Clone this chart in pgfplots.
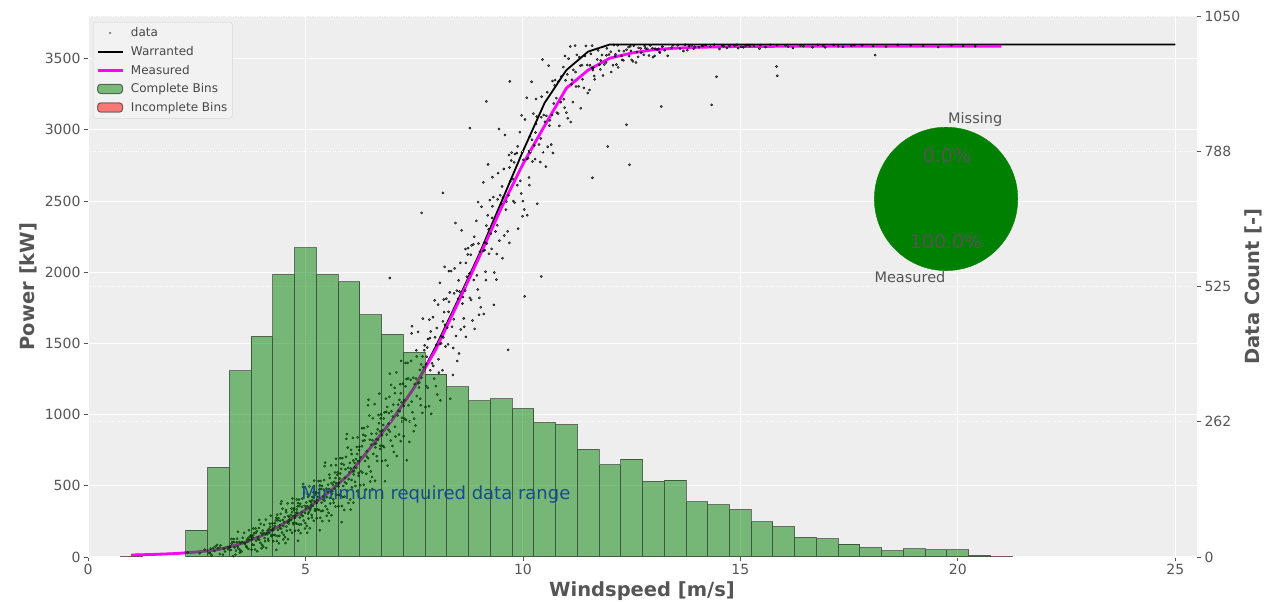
\documentclass[border=0pt]{standalone}
\usepackage{fontspec}
\setmainfont{DejaVu Sans}
\usepackage{pgfplots}
\pgfplotsset{compat=1.18}
\definecolor{bg}{RGB}{238,238,238}
\definecolor{txt}{RGB}{85,85,85}
\definecolor{piegreen}{RGB}{0,128,0}
\definecolor{mag}{RGB}{255,0,255}
\definecolor{navytxt}{RGB}{25,75,140}
\definecolor{legfill}{RGB}{242,242,242}
\definecolor{legdraw}{RGB}{215,215,215}
\definecolor{legtxt}{RGB}{70,70,70}
\pgfplotsset{
  dotlegend/.style={legend image code/.code={\fill[##1] (12.5pt,0pt) circle (1pt);}},
  linelegend/.style={legend image code/.code={\draw[##1] (0pt,0pt) -- (25pt,0pt);}},
  patchlegend/.style={legend image code/.code={\draw[##1] (0pt,-4.6pt) rectangle (25pt,4.6pt);}},
  scat/.style={only marks, mark=*, mark size=1.1pt, mark options={fill=black, draw=none, fill opacity=0.48}},
}
\begin{document}
\begin{tikzpicture}
\useasboundingbox (0,0) rectangle (1283pt,602pt);
\begin{axis}[
  at={(88pt,45pt)}, anchor=south west,
  width=1109pt, height=541pt, scale only axis,
  xmin=0, xmax=25.5, ymin=0, ymax=3800,
  xtick={0,5,10,15,20,25}, ytick={0,500,1000,1500,2000,2500,3000,3500},
  scaled ticks=false,
  axis background/.style={fill=bg},
  axis line style={draw=none},
  grid=major, major grid style={white, line width=1pt},
  tick pos=left, tick align=outside, major tick length=4pt,
  tick style={txt, line width=0.8pt},
  tick label style={font=\fontsize{14}{16}\selectfont, text=txt},
  /pgf/number format/assume math mode=true,
  /pgf/number format/1000 sep={},
  xlabel={Windspeed [m/s]}, ylabel={Power [kW]},
  label style={font=\bfseries\fontsize{19.5}{22}\selectfont, text=txt},
  xlabel style={at={(axis description cs:0.4995,-0.0628)}, anchor=center},
  ylabel style={at={(axis description cs:-0.054,0.5)}, anchor=center},
]
% scattered measurements (part 1)
\addplot[scat] coordinates {
(2.29,33)(2.57,27)(2.68,52)
(2.91,42)(3.02,66)(2.84,13)(3.13,61)(2.97,85)(3.22,54)(2.88,64)(3.10,17)(2.81,26)(3.05,82)
(3.44,72)(3.66,124)(3.27,74)(3.50,49)(3.70,188)(3.36,105)(3.59,98)(3.49,31)(3.64,76)(3.30,126)(3.54,105)(3.40,45)(3.73,144)(3.45,177)(3.61,92)(3.33,4)(3.56,135)(3.42,103)(3.69,57)(3.26,67)
(3.79,137)(4.07,110)(4.18,234)(3.91,126)(4.02,186)(3.84,53)(4.13,171)(3.97,233)(4.22,154)(3.88,180)(4.10,63)(3.81,84)(4.05,226)(3.94,121)(4.16,197)(3.77,124)(4.00,87)(4.20,290)(3.86,169)(4.09,159)(3.99,61)(4.14,127)(3.80,200)(4.04,169)
(4.40,149)(4.73,330)(4.45,392)(4.61,235)(4.33,50)(4.56,314)(4.42,255)(4.69,170)(4.26,188)(4.29,219)(4.57,185)(4.68,341)(4.41,204)(4.52,280)(4.34,113)(4.63,262)(4.47,339)(4.72,240)(4.38,273)(4.60,125)(4.31,152)(4.55,330)(4.44,199)(4.66,294)(4.27,203)(4.50,156)(4.70,411)(4.36,258)(4.59,246)(4.49,123)
(5.14,296)(4.80,404)(5.04,357)(4.90,229)(5.23,441)(4.95,513)(5.11,330)(4.83,114)(5.06,422)(4.92,353)(5.19,254)(4.76,275)(4.79,311)(5.07,271)(5.18,454)(4.91,294)(5.02,383)(4.84,187)(5.13,362)(4.97,452)(5.22,336)(4.88,374)(5.10,202)(4.81,233)(5.05,441)(4.94,288)(5.16,399)(4.77,292)(5.00,238)(5.20,536)(4.86,357)(5.09,343)(4.99,200)
(5.38,498)(5.60,293)(5.31,330)(5.55,578)(5.44,395)(5.66,528)(5.27,400)(5.50,335)(5.70,690)(5.36,478)(5.59,460)(5.49,290)(5.64,405)(5.30,533)(5.54,478)(5.40,325)(5.73,578)(5.45,663)(5.61,445)(5.33,188)(5.56,555)(5.42,473)(5.69,355)(5.26,380)(5.29,423)(5.57,375)(5.68,593)(5.41,403)(5.52,508)(5.34,275)
(6.09,600)(5.99,379)(6.14,528)(5.80,694)(6.04,622)(5.90,424)(6.23,752)(5.95,863)(6.11,580)(5.83,245)(6.06,723)(5.92,616)(6.19,463)(5.76,496)(5.79,551)(6.07,489)(6.18,772)(5.91,525)(6.02,661)(5.84,359)(6.13,629)(5.97,769)(6.22,590)(5.88,648)(6.10,382)(5.81,431)(6.05,752)(5.94,515)(6.16,687)(5.77,522)
(6.68,997)(6.41,705)(6.52,866)(6.34,508)(6.63,828)(6.47,993)(6.72,782)(6.38,851)(6.60,535)(6.31,593)(6.55,974)(6.44,693)(6.66,897)(6.27,701)(6.50,601)(6.70,1147)(6.36,820)(6.59,793)(6.49,531)(6.64,708)(6.30,905)(6.54,820)(6.40,585)(6.73,974)(6.45,1105)(6.61,770)
(6.83,532)(7.06,1150)(6.92,1011)(7.19,814)(6.76,856)(6.79,927)(7.07,847)(7.18,1213)(6.91,894)(7.02,1070)(6.84,679)(7.13,1028)(6.97,1209)(7.22,978)(6.88,1053)(7.10,709)(6.81,772)(7.05,1188)(6.94,881)(7.16,1104)(6.77,889)(7.00,780)(7.20,1377)(6.86,1020)
(7.31,962)(7.55,1452)(7.44,1091)(7.66,1353)(7.27,1101)(7.50,972)(7.70,1675)(7.36,1254)(7.59,1220)(7.49,883)(7.64,1111)(7.30,1363)(7.54,1254)(7.40,952)(7.73,1452)(7.45,1621)(7.61,1190)(7.33,680)(7.56,1408)(7.42,1244)(7.69,1012)(7.26,1061)
(7.79,1407)(8.07,1295)(8.18,1808)(7.91,1360)(8.02,1608)(7.84,1059)(8.13,1549)(7.97,1802)(8.22,1478)(7.88,1584)(8.10,1100)(7.81,1189)(8.05,1773)(7.94,1342)(8.16,1655)(7.77,1354)(8.00,1200)(8.20,2038)(7.86,1537)(8.09,1495)
(8.49,1377)(8.64,1676)(8.30,2008)(8.54,1865)(8.40,1468)(8.73,2125)(8.45,2346)(8.61,1780)(8.33,1111)(8.56,2066)(8.42,1852)(8.69,1546)(8.26,1611)(8.29,1722)(8.57,1598)(8.68,2164)(8.41,1670)(8.52,1943)
(8.84,1661)(9.13,2209)(8.97,2493)(9.22,2130)(8.88,2249)(9.10,1707)(8.81,1806)(9.05,2460)(8.94,1978)(9.16,2328)(8.77,1991)(9.00,1820)(9.20,2757)(8.86,2196)(9.09,2150)(8.99,1701)(9.14,2004)
(9.30,2668)(9.54,2525)(9.40,2128)(9.73,2785)(9.45,3006)(9.61,2440)(9.33,1771)(9.56,2726)(9.42,2512)(9.69,2206)(9.26,2271)(9.29,2382)(9.57,2258)(9.68,2824)(9.41,2330)(9.52,2603)(9.34,1998)
(10.13,2849)(9.97,3102)(10.22,2778)(9.88,2884)(10.10,2400)(9.81,2489)(10.05,3073)(9.94,2642)(10.16,2955)(9.77,2654)(10.00,2500)(10.20,3338)(9.86,2837)(10.09,2795)(9.99,2394)(10.14,2666)
(10.30,3217)(10.54,3099)(10.40,2774)(10.73,3312)(10.45,3494)(10.61,3030)(10.33,2481)(10.56,3265)(10.42,3089)(10.69,2838)(10.26,2891)(10.29,2982)(10.57,2881)(10.68,3344)(10.41,2939)
(11.02,3390)(10.84,3028)(11.13,3352)(10.97,3519)(11.22,3305)(10.88,3375)(11.10,3055)(10.81,3114)(11.05,3500)(10.94,3215)(11.16,3422)(10.77,3223)(11.00,3121)(11.20,3592)
(11.36,3454)(11.59,3436)(11.49,3259)(11.64,3378)(11.30,3511)(11.54,3454)(11.40,3295)(11.73,3558)(11.45,3590)(11.61,3420)(11.33,3152)(11.56,3534)
(11.92,3524)(12.19,3439)(11.76,3457)(11.79,3488)(12.07,3454)(12.18,3594)(11.91,3473)(12.02,3549)(11.84,3382)(12.13,3531)
(12.47,3588)(12.72,3543)(12.38,3563)(12.60,3473)(12.31,3489)(12.55,3591)(12.44,3518)(12.66,3576)(12.27,3520)(12.50,3492)
(13.20,3585)(12.86,3570)(13.09,3565)(12.99,3510)(13.14,3547)(12.80,3588)(13.04,3570)(12.90,3522)
(13.73,3598)(13.45,3594)(13.61,3572)(13.33,3520)(13.56,3594)(13.42,3578)(13.69,3554)(13.26,3559)
(13.82,3588)(14.05,3580)(14.21,3596)(13.93,3570)(14.12,3590)(13.78,3560)
(14.31,3585)(14.58,3594)(14.69,3576)(14.40,3598)(14.52,3568)(14.75,3590)
(14.86,3592)(15.07,3580)(15.18,3596)(14.95,3574)(15.22,3588)
(15.31,3590)(15.58,3582)(15.69,3597)(15.44,3570)
(15.84,3594)(16.10,3585)(16.21,3576)(16.38,3592)(16.66,3580)(16.91,3590)(17.15,3596)
(17.36,3584)(17.62,3595)(18.05,3590)(18.92,3593)(19.55,3582)(20.12,3590)
(11.60,2663)(12.45,2755)(11.95,2883)(12.38,3036)(13.18,3164)(6.94,1960)(7.67,2417)(8.16,2558)
(9.16,3200)(9.70,3340)(10.42,1970)(10.04,1830)(9.66,1455)(15.85,3380)(14.45,3373)(18.10,3525)
(8.78,3012)(14.34,3176)(15.83,3445)
};
% scattered measurements (part 2)
\addplot[scat] coordinates {
(3.12,56)(2.82,59)(3.03,21)(3.21,69)(2.93,74)(2.78,27)(3.15,38)(2.98,60)
(3.62,99)(3.32,104)(3.53,39)(3.71,120)(3.43,129)(3.28,49)(3.65,68)(3.48,106)(3.59,169)(3.37,68)(3.74,151)(3.46,58)(3.67,106)(3.30,94)(3.51,97)(3.39,17)(3.69,135)(3.35,126)
(4.12,160)(3.82,167)(4.03,73)(4.21,191)(3.93,204)(3.78,87)(4.15,114)(3.98,170)(4.09,263)(3.87,114)(4.24,236)(3.96,100)(4.17,170)(3.80,153)(4.01,157)(3.89,40)(4.19,213)(3.85,200)(4.06,133)(3.76,51)(4.13,186)(3.94,260)(4.22,146)(3.91,140)
(4.62,248)(4.32,257)(4.53,138)(4.71,287)(4.43,303)(4.28,156)(4.65,190)(4.48,260)(4.59,377)(4.37,190)(4.74,343)(4.46,172)(4.67,260)(4.30,239)(4.51,244)(4.39,96)(4.69,314)(4.35,298)(4.56,213)(4.26,111)(4.63,280)(4.44,374)(4.72,230)(4.41,222)(4.54,98)(4.33,276)(4.60,289)(4.49,217)(4.70,379)(4.36,147)
(5.12,345)(4.82,355)(5.03,217)(5.21,391)(4.93,410)(4.78,238)(5.15,277)(4.98,359)(5.09,496)(4.87,277)(5.24,456)(4.96,256)(5.17,359)(4.80,334)(5.01,341)(4.89,168)(5.19,422)(4.85,404)(5.06,305)(4.76,185)(5.13,383)(4.94,492)(5.22,324)(4.91,315)(5.04,170)(4.83,378)(5.10,393)(4.99,309)(5.20,498)(4.86,227)(5.08,315)(4.81,311)(5.16,422)
(5.62,463)(5.32,475)(5.53,310)(5.71,518)(5.43,540)(5.28,335)(5.65,382)(5.48,480)(5.59,643)(5.37,382)(5.74,595)(5.46,357)(5.67,480)(5.30,450)(5.51,458)(5.39,252)(5.69,555)(5.35,533)(5.56,415)(5.26,272)(5.63,508)(5.44,638)(5.72,437)(5.41,427)(5.54,255)(5.33,503)(5.60,520)(5.49,420)(5.70,645)(5.36,322)
(6.12,603)(5.82,619)(6.03,404)(6.21,674)(5.93,704)(5.78,437)(6.15,499)(5.98,626)(6.09,837)(5.87,499)(6.24,775)(5.96,466)(6.17,626)(5.80,587)(6.01,596)(5.89,330)(6.19,723)(5.85,694)(6.06,541)(5.76,356)(6.13,661)(5.94,830)(6.22,570)(5.91,557)(6.04,333)(5.83,655)(6.10,678)(5.99,547)(6.20,840)(5.86,421)
(6.62,797)(6.32,816)(6.53,562)(6.71,882)(6.43,916)(6.28,601)(6.65,674)(6.48,824)(6.59,1074)(6.37,674)(6.74,1001)(6.46,635)(6.67,824)(6.30,778)(6.51,789)(6.39,474)(6.69,939)(6.35,905)(6.56,724)(6.26,504)(6.63,866)(6.44,1066)(6.72,758)(6.41,743)(6.54,477)(6.33,859)
(7.12,994)(6.82,1015)(7.03,738)(7.21,1087)(6.93,1125)(6.78,780)(7.15,860)(6.98,1024)(7.09,1297)(6.87,860)(7.24,1217)(6.96,818)(7.17,1024)(6.80,973)(7.01,986)(6.89,642)(7.19,1150)(6.85,1112)(7.06,915)(6.76,675)(7.13,1070)(6.94,1288)(7.22,952)(6.91,936)
(7.62,1225)(7.32,1249)(7.53,923)(7.71,1334)(7.43,1378)(7.28,972)(7.65,1066)(7.48,1259)(7.59,1581)(7.37,1066)(7.74,1487)(7.46,1017)(7.67,1259)(7.30,1200)(7.51,1215)(7.39,809)(7.69,1408)(7.35,1363)(7.56,1131)(7.26,848)(7.63,1314)(7.44,1571)
(8.12,1501)(7.82,1531)(8.03,1141)(8.21,1631)(7.93,1684)(7.78,1200)(8.15,1312)(7.98,1543)(8.09,1926)(7.87,1312)(8.24,1814)(7.96,1253)(8.17,1543)(7.80,1472)(8.01,1490)(7.89,1006)(8.19,1720)(7.85,1667)(8.06,1389)(7.76,1053)
(8.62,1826)(8.32,1858)(8.53,1429)(8.71,1969)(8.43,2027)(8.28,1494)(8.65,1617)(8.48,1871)(8.59,2294)(8.37,1617)(8.74,2170)(8.46,1552)(8.67,1871)(8.30,1793)(8.51,1813)(8.39,1279)(8.69,2066)(8.35,2008)
(9.12,2156)(8.82,2189)(9.03,1754)(9.21,2301)(8.93,2361)(8.78,1820)(9.15,1945)(8.98,2202)(9.09,2631)(8.87,1945)(9.24,2506)(8.96,1879)(9.17,2202)(8.80,2123)(9.01,2143)(8.89,1602)(9.19,2400)
(9.62,2496)(9.32,2528)(9.53,2099)(9.71,2639)(9.43,2697)(9.28,2164)(9.65,2287)(9.48,2541)(9.59,2964)(9.37,2287)(9.74,2840)(9.46,2222)(9.67,2541)(9.30,2463)(9.51,2483)(9.39,1949)(9.69,2736)
(10.12,2801)(9.82,2831)(10.03,2441)(10.21,2931)(9.93,2984)(9.78,2500)(10.15,2612)(9.98,2843)(10.09,3226)(9.87,2612)(10.24,3114)(9.96,2553)(10.17,2843)(9.80,2772)(10.01,2790)(9.89,2306)
(10.62,3067)(10.32,3094)(10.53,2742)(10.71,3185)(10.43,3233)(10.28,2795)(10.65,2897)(10.48,3105)(10.59,3451)(10.37,2897)(10.74,3350)(10.46,2843)(10.67,3105)(10.30,3041)(10.51,3057)
(11.12,3320)(10.82,3340)(11.03,3082)(11.21,3406)(10.93,3441)(10.78,3121)(11.15,3195)(10.98,3348)(11.09,3586)(10.87,3195)(11.24,3527)(10.96,3156)
(11.62,3438)(11.32,3451)(11.53,3280)(11.71,3495)(11.43,3519)(11.28,3306)(11.65,3355)(11.48,3456)(11.59,3592)(11.37,3355)
(12.12,3517)(11.82,3526)(12.03,3407)(12.21,3556)(11.93,3572)(11.78,3425)(12.15,3459)(11.98,3529)(12.09,3596)(11.87,3459)
(12.62,3548)(12.32,3553)(12.53,3481)(12.71,3572)(12.43,3582)(12.28,3492)(12.65,3513)(12.48,3555)
(13.12,3569)(12.82,3573)(13.03,3520)(13.21,3586)(12.93,3593)(12.78,3528)(13.15,3543)(12.98,3574)
(14.15,3592)(14.62,3586)(13.88,3595)(15.12,3590)(15.46,3596)(15.02,3584)(16.04,3594)(16.45,3588)(16.78,3597)(17.25,3588)
(17.80,3594)(18.35,3586)(18.62,3596)(19.20,3590)(19.85,3594)(20.40,3588)(14.92,3598)(13.95,3584)(16.95,3580)(17.55,3590)
};
% warranted power curve
\addplot[black, line width=1.8pt] coordinates {
(1,14)(1.5,18)(2,24)(2.5,35)(3,50)(3.5,90)(4,150)(4.5,235)(5,330)(5.5,445)(6,580)(6.5,770)
(7,965)(7.5,1190)(8,1480)(8.5,1800)(9,2130)(9.5,2490)(10,2850)(10.5,3190)(11,3420)(11.5,3550)
(12,3600)(25,3600)
};
% measured power curve
\addplot[mag, line width=2.8pt] coordinates {
(1,14)(1.5,18)(2,24)(2.5,35)(3,52)(3.5,92)(4,150)(4.5,235)(5,330)(5.5,445)(6,580)(6.5,770)
(7,965)(7.5,1190)(8,1460)(8.5,1780)(9,2110)(9.5,2450)(10,2760)(10.5,3030)(11,3293)(11.5,3420)
(12,3504)(12.5,3540)(13,3563)(13.5,3574)(14,3580)(15,3586)(16,3587)(17,3587)(18,3588)(19,3588)(20,3588)(21,3588)
};
\end{axis}
\begin{axis}[
  at={(88pt,45pt)}, anchor=south west,
  width=1109pt, height=541pt, scale only axis,
  xmin=0, xmax=25.5, ymin=0, ymax=1050,
  axis x line=none, axis y line*=right,
  axis line style={draw=none},
  ytick={0,262.5,525,787.5,1050}, yticklabels={0,262,525,788,1050},
  ymajorgrids, major grid style={white, dotted, line width=0.8pt},
  tick align=outside, major tick length=4pt,
  tick style={txt, line width=0.8pt},
  tick label style={font=\fontsize{14}{16}\selectfont, text=txt},
  ylabel={Data Count [-]},
  label style={font=\bfseries\fontsize{19.5}{22}\selectfont, text=txt},
  ylabel style={at={(axis description cs:1.0505,0.5)}, anchor=center},
  legend style={at={(0.0045,0.989)}, anchor=north west,
    font=\fontsize{12}{14}\selectfont, text=legtxt,
    fill=legfill, draw=legdraw, rounded corners=3pt, row sep=4pt, inner ysep=3.6pt,
    /tikz/every odd column/.append style={column sep=5pt}},
  legend cell align=left,
  after end axis/.code={
    \node[text=txt, font=\fontsize{14.5}{17}\selectfont] at (axis cs:20.40,850) {Missing};
    \node[text=txt, font=\fontsize{19}{22}\selectfont] at (axis cs:19.75,780) {0.0\%};
    \node[text=txt, font=\fontsize{19}{22}\selectfont] at (axis cs:19.73,613) {100.0\%};
    \node[text=txt, font=\fontsize{14.5}{17}\selectfont] at (axis cs:18.90,543) {Measured};
  },
]
\addlegendimage{dotlegend, gray}
\addlegendimage{linelegend, black, line width=1.8pt}
\addlegendimage{linelegend, mag, line width=2.8pt}
\addlegendimage{patchlegend, fill=piegreen, fill opacity=0.5, draw=black, draw opacity=0.5, line width=1pt}
\addlegendimage{patchlegend, fill=red, fill opacity=0.5, draw=black, draw opacity=0.5, line width=1pt}
\legend{data,Warranted,Measured,Complete Bins,Incomplete Bins}
% complete bins
\addplot[ybar, bar width=0.5, bar shift=0pt, fill=piegreen, fill opacity=0.5, draw=black, draw opacity=0.5, line width=1pt] coordinates {
(2.5,52)(3,174)(3.5,361)(4,428)(4.5,548)(5,600)(5.5,548)(6,534)(6.5,470)(7,432)(7.5,397)(8,355)
(8.5,330)(9,303)(9.5,307)(10,288)(10.5,261)(11,257)(11.5,209)(12,179)(12.5,190)(13,147)(13.5,149)
(14,107)(14.5,101)(15,92)(15.5,68)(16,59)(16.5,38)(17,35)(17.5,25)(18,18)(18.5,12)(19,16)(19.5,14)(20,14)(20.5,3)
};
% incomplete bins
\addplot[ybar, bar width=0.5, bar shift=0pt, fill=red, fill opacity=0.5, draw=black, draw opacity=0.5, line width=1pt] coordinates {
(1,1)(21,1)
};
\node[text=navytxt, font=\fontsize{18}{21}\selectfont] at (axis cs:8.0,122) {Minimum required data range};
% data availability pie (100 % measured)
\addplot[only marks, color=piegreen, mark=*, mark size=71.7pt, mark options={fill=piegreen, draw=piegreen}] coordinates {(19.73,695)};
\end{axis}
\end{tikzpicture}
\end{document}
